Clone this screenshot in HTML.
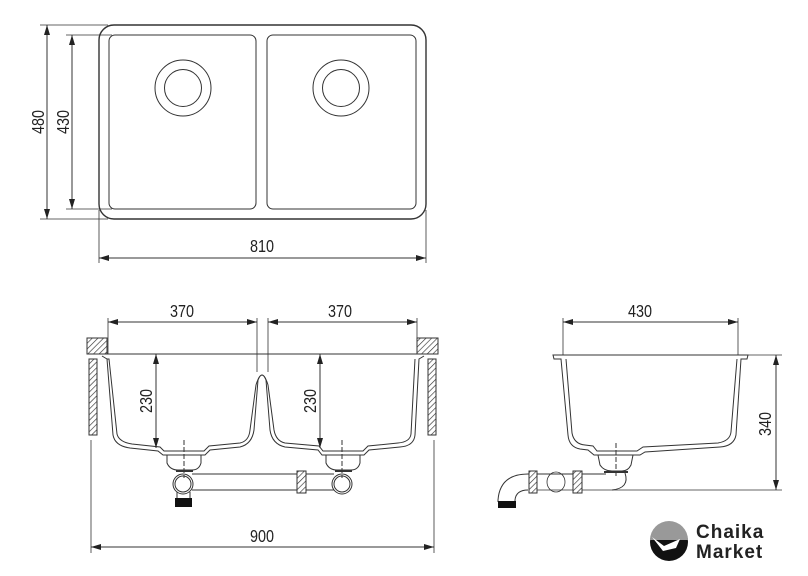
<!DOCTYPE html>
<html><head><meta charset="utf-8"><style>
html,body{margin:0;padding:0;background:#fff}
svg{display:block}
text{font-family:"Liberation Sans",sans-serif;fill:#222}
</style></head><body>
<svg width="808" height="576" viewBox="0 0 808 576" xmlns="http://www.w3.org/2000/svg">
<defs>
<pattern id="h" width="4" height="4" patternUnits="userSpaceOnUse" patternTransform="rotate(45)">
<rect width="4" height="4" fill="#fff"/><line x1="0" y1="0" x2="0" y2="4" stroke="#333" stroke-width="1.3"/>
</pattern>
<marker id="a" viewBox="0 0 10 6" refX="10" refY="3" markerWidth="10" markerHeight="6" orient="auto-start-reverse" markerUnits="userSpaceOnUse">
<path d="M0,0 L10,3 L0,6 z" fill="#222"/></marker>
</defs>
<g fill="none" stroke="#333" stroke-width="1">
<rect x="99" y="25" width="327" height="194" rx="15" stroke-width="1.4"/>
<rect x="109" y="35" width="147" height="174" rx="6"/>
<rect x="267" y="35" width="149" height="174" rx="6"/>
<circle cx="183" cy="88" r="28"/><circle cx="183" cy="88" r="18.5"/>
<circle cx="341" cy="88" r="28"/><circle cx="341" cy="88" r="18.5"/>
<line x1="40" y1="25" x2="108" y2="25" stroke-width=".8"/>
<line x1="40" y1="219" x2="108" y2="219" stroke-width=".8"/>
<line x1="66" y1="35" x2="112" y2="35" stroke-width=".8"/>
<line x1="66" y1="209" x2="112" y2="209" stroke-width=".8"/>
<line x1="47" y1="25" x2="47" y2="219" marker-start="url(#a)" marker-end="url(#a)"/>
<line x1="72" y1="35" x2="72" y2="209" marker-start="url(#a)" marker-end="url(#a)"/>
<line x1="99" y1="210" x2="99" y2="263" stroke-width=".8"/>
<line x1="426" y1="210" x2="426" y2="263" stroke-width=".8"/>
<line x1="99" y1="258" x2="426" y2="258" marker-start="url(#a)" marker-end="url(#a)"/>

<rect x="87" y="338" width="20" height="16" fill="url(#h)"/>
<rect x="417" y="338" width="21" height="16" fill="url(#h)"/>
<rect x="89" y="359" width="8" height="76" fill="url(#h)"/>
<rect x="428" y="359" width="8" height="76" fill="url(#h)"/>
<line x1="87" y1="354" x2="438" y2="354"/>
<line x1="108" y1="318" x2="108" y2="354" stroke-width=".8"/>
<line x1="257" y1="318" x2="257" y2="372" stroke-width=".8"/>
<line x1="268" y1="318" x2="268" y2="372" stroke-width=".8"/>
<line x1="417" y1="318" x2="417" y2="354" stroke-width=".8"/>
<line x1="108" y1="322" x2="257" y2="322" marker-start="url(#a)" marker-end="url(#a)"/>
<line x1="268" y1="322" x2="417" y2="322" marker-start="url(#a)" marker-end="url(#a)"/>
<path d="M102,356 L107,359 L113,435 Q115,446 130,448 L158,451 L163,455 L205,455 L210,450 L240,447 Q252,444 254,430 L258,380 Q262,370 266,380 L270,430 Q272,444 285,447 L318,450 L322,455 L364,455 L369,450 L400,447 Q414,446 415,435 L419,359 L424,356"/>
<path d="M107,359 L109,359 L117,434 Q119,442 132,444 L160,447 L164,451 L204,451 L209,446 L240,443 Q249,441 250,430 L256,385 Q262,365 268,385 L274,430 Q276,441 285,443 L319,446 L323,451 L363,451 L368,446 L398,443 Q410,442 411,434 L415,359"/>
<path d="M167,455 L167,463 Q170,470 178,470 L192,470 Q199,470 201,463 L201,455"/>
<path d="M326,455 L326,463 Q329,470 337,470 L351,470 Q358,470 360,463 L360,455"/>
<line x1="176" y1="471" x2="193" y2="471" stroke-width="2"/>
<line x1="335" y1="471" x2="352" y2="471" stroke-width="2"/>
<line x1="184" y1="440" x2="184" y2="478" stroke-dasharray="5,2"/>
<line x1="342" y1="440" x2="342" y2="478" stroke-dasharray="5,2"/>
<circle cx="183" cy="484" r="10"/><circle cx="183" cy="484" r="8"/>
<circle cx="342" cy="484" r="10"/><circle cx="342" cy="484" r="8"/>
<line x1="192" y1="474" x2="334" y2="474"/>
<line x1="192" y1="490" x2="334" y2="490"/>
<rect x="297" y="471" width="9" height="22" fill="url(#h)"/>
<line x1="177" y1="492" x2="177" y2="498"/><line x1="190" y1="492" x2="190" y2="498"/>
<rect x="175" y="498" width="17" height="9" fill="#111" stroke="none"/>
<line x1="156" y1="354" x2="156" y2="448" marker-start="url(#a)" marker-end="url(#a)"/>
<line x1="320" y1="354" x2="320" y2="448" marker-start="url(#a)" marker-end="url(#a)"/>
<line x1="91" y1="440" x2="91" y2="553" stroke-width=".8"/>
<line x1="434" y1="440" x2="434" y2="553" stroke-width=".8"/>
<line x1="91" y1="547" x2="434" y2="547" marker-start="url(#a)" marker-end="url(#a)"/>

<path d="M553,355 L748,355 L747,359 L741,359 L736,435 Q734,446 720,447 L645,452 L640,455 L594,455 L588,450 L580,449 Q569,447 568,435 L561,359 L554,359 Z"/>
<path d="M566,359 L572,433 Q574,444 585,445 L593,446 L597,451 L637,451 L643,447 L718,443 Q730,441 731,432 L737,359"/>
<path d="M598,455 L600,465 Q604,471 612,471 L622,471 Q628,471 631,465 L633,455"/>
<line x1="604" y1="472" x2="628" y2="472" stroke-width="2"/>
<line x1="616" y1="443" x2="616" y2="478" stroke-dasharray="5,2"/>
<path d="M625,473 Q630,488 612,490"/>
<line x1="563" y1="318" x2="563" y2="355" stroke-width=".8"/>
<line x1="738" y1="318" x2="738" y2="355" stroke-width=".8"/>
<line x1="563" y1="322" x2="738" y2="322" marker-start="url(#a)" marker-end="url(#a)"/>
<line x1="748" y1="355" x2="782" y2="355" stroke-width=".8"/>
<line x1="530" y1="490" x2="782" y2="490" stroke-width=".8"/>
<line x1="776" y1="355" x2="776" y2="490" marker-start="url(#a)" marker-end="url(#a)"/>
<line x1="528" y1="474" x2="606" y2="474"/>
<path d="M528,474 Q500,474 498,500"/>
<path d="M528,490 Q516,490 515,500"/>
<line x1="498" y1="500" x2="498" y2="502"/><line x1="515" y1="500" x2="515" y2="502"/>
<rect x="498" y="501" width="18" height="7" fill="#111" stroke="none"/>
<rect x="529" y="471" width="8" height="22" fill="url(#h)"/>
<rect x="573" y="471" width="9" height="22" fill="url(#h)"/>
<ellipse cx="556" cy="482" rx="9" ry="10" stroke-width=".8"/>
</g>
<g font-size="18" text-anchor="middle">
<text transform="translate(262,252) scale(.8,1)">810</text>
<text transform="translate(44,122) rotate(-90) scale(.8,1)">480</text>
<text transform="translate(69,122) rotate(-90) scale(.8,1)">430</text>
<text transform="translate(182,317) scale(.8,1)">370</text>
<text transform="translate(340,317) scale(.8,1)">370</text>
<text transform="translate(152,401) rotate(-90) scale(.8,1)">230</text>
<text transform="translate(316,401) rotate(-90) scale(.8,1)">230</text>
<text transform="translate(262,542) scale(.8,1)">900</text>
<text transform="translate(640,317) scale(.8,1)">430</text>
<text transform="translate(771,424) rotate(-90) scale(.8,1)">340</text>
</g>
<circle cx="669" cy="542" r="19" fill="#111"/>
<path d="M650,540 A19,19 0 0 1 688,540 Z" fill="#999"/>
<path d="M652,537 L664,546 L680,539 L676,548 L663,551 Z" fill="#fff"/>
<text x="696" y="538" font-size="19" font-weight="bold" style="letter-spacing:1px">Chaika</text>
<text x="696" y="558" font-size="19" font-weight="bold" style="letter-spacing:1px">Market</text>
</svg>
</body></html>
